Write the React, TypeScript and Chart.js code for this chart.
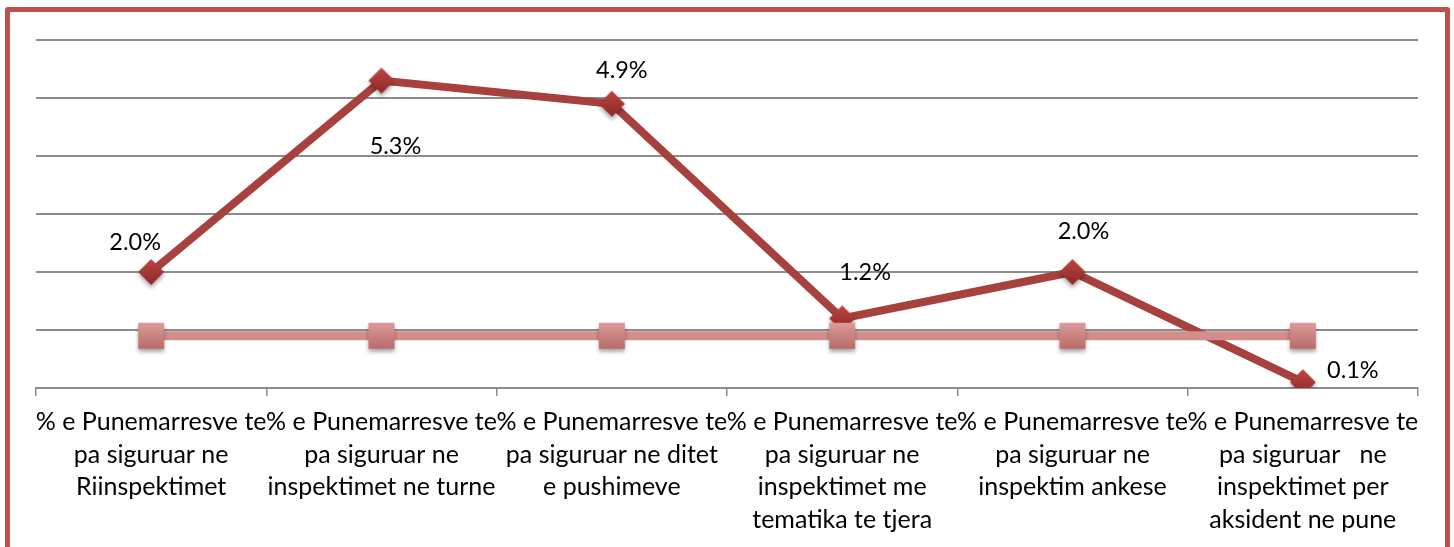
import React, { useEffect, useRef } from "react";
import { Chart, registerables } from "chart.js";

Chart.register(...registerables);

// ---------- data ----------
const categories: string[][] = [
  ["% e Punemarresve te", "pa siguruar ne", "Riinspektimet"],
  ["% e Punemarresve te", "pa siguruar ne", "inspektimet ne turne"],
  ["% e Punemarresve te", "pa siguruar ne ditet", "e pushimeve"],
  ["% e Punemarresve te", "pa siguruar ne", "inspektimet me", "tematika te tjera"],
  ["% e Punemarresve te", "pa siguruar ne", "inspektim ankese"],
  ["% e Punemarresve te", "pa siguruar   ne", "inspektimet per", "aksident ne pune"],
];
const uninsuredShare = [2.0, 5.3, 4.9, 1.2, 2.0, 0.1];
const referenceLevel = [0.9, 0.9, 0.9, 0.9, 0.9, 0.9];
const valueLabels = ["2.0%", "5.3%", "4.9%", "1.2%", "2.0%", "0.1%"];
const yMin = 0;
const yMax = 6;
const yStep = 1;

// ---------- styling ----------
const FONT = "Lato, 'Noto Sans', sans-serif";
const LABEL_OFFSETS: [number, number][] = [
  [-16, -30],
  [14, 66],
  [10, -33],
  [23, -46],
  [11, -41],
  [50, -12],
];
const GRID = "#8c8c8c";

function makeMarker(kind: "diamond" | "square"): HTMLCanvasElement {
  const c = document.createElement("canvas");
  c.width = 46;
  c.height = 46;
  const ctx = c.getContext("2d")!;
  const cx = 23;
  const cy = 23;
  ctx.shadowColor = "rgba(0,0,0,0.35)";
  ctx.shadowBlur = 4;
  ctx.shadowOffsetY = 3;
  ctx.beginPath();
  if (kind === "diamond") {
    const h = 13;
    ctx.moveTo(cx, cy - h);
    ctx.lineTo(cx + h, cy);
    ctx.lineTo(cx, cy + h);
    ctx.lineTo(cx - h, cy);
    ctx.closePath();
    const g = ctx.createLinearGradient(0, cy - h, 0, cy + h);
    g.addColorStop(0, "#BC4643");
    g.addColorStop(1, "#8E2826");
    ctx.fillStyle = g;
  } else {
    const h = 13;
    ctx.rect(cx - h, cy - h, 2 * h, 2 * h);
    const g = ctx.createLinearGradient(0, cy - h, 0, cy + h);
    g.addColorStop(0, "#DB9B99");
    g.addColorStop(1, "#BA6C6A");
    ctx.fillStyle = g;
  }
  ctx.fill();
  return c;
}

const valueLabelPlugin = {
  id: "valueLabels",
  afterDatasetsDraw(chart: any) {
    const meta = chart.getDatasetMeta(1);
    const ctx = chart.ctx;
    ctx.save();
    ctx.font = `23.5px ${FONT}`;
    ctx.fillStyle = "#000";
    ctx.textAlign = "center";
    ctx.textBaseline = "middle";
    meta.data.forEach((pt: any, i: number) => {
      const [dx, dy] = LABEL_OFFSETS[i];
      ctx.fillText(valueLabels[i], pt.x + dx, pt.y + dy);
    });
    ctx.restore();
  },
};

export default function App() {
  const ref = useRef<HTMLCanvasElement>(null);

  useEffect(() => {
    let chart: Chart | null = null;
    let cancelled = false;
    const build = () => {
      if (cancelled || !ref.current) return;
      const diamond = makeMarker("diamond");
      const square = makeMarker("square");
      chart = new Chart(ref.current, {
        type: "line",
        data: {
          labels: categories,
          datasets: [
            {
              label: "Referenca",
              data: referenceLevel,
              borderColor: "#D38D8C",
              borderWidth: 9,
              pointStyle: square as any,
              order: 1,
            },
            {
              label: "% e Punemarresve te pa siguruar",
              data: uninsuredShare,
              borderColor: "#A7413E",
              borderWidth: 8,
              pointStyle: diamond as any,
              order: 2,
            },
          ],
        },
        options: {
          responsive: false,
          animation: false,
          events: [],
          layout: { padding: { top: 40, right: 36, left: 0, bottom: 0 } },
          plugins: {
            legend: { display: false },
            tooltip: { enabled: false },
            title: { display: false },
          },
          elements: { line: { tension: 0 } },
          scales: {
            x: {
              type: "category",
              offset: true,
              grid: {
                offset: true,
                drawOnChartArea: false,
                drawTicks: true,
                tickLength: 8,
                color: GRID,
                lineWidth: 1.5,
              },
              border: { display: true, color: GRID, width: 2 },
              ticks: {
                autoSkip: false,
                maxRotation: 0,
                minRotation: 0,
                padding: 10,
                color: "#000",
                font: { family: FONT, size: 25, lineHeight: 1.3 },
              },
              afterFit: (s: any) => {
                s.height = 159;
              },
            },
            y: {
              min: yMin,
              max: yMax,
              ticks: { display: false, stepSize: yStep },
              grid: { color: GRID, lineWidth: 2, drawTicks: false },
              border: { display: false },
              afterFit: (s: any) => {
                s.width = 36;
              },
            },
          },
        },
        plugins: [valueLabelPlugin],
      });
    };
    const fonts: any = (document as any).fonts;
    if (fonts && fonts.load) {
      fonts.load(`25px Lato`).then(build, build);
    } else {
      build();
    }
    return () => {
      cancelled = true;
      if (chart) chart.destroy();
    };
  }, []);

  return (
    <div
      style={{
        position: "fixed",
        left: 0,
        top: 0,
        width: 1454,
        height: 547,
        background: "#fff",
        overflow: "hidden",
      }}
    >
      <div
        style={{
          position: "absolute",
          left: 5,
          top: 7,
          width: 1445,
          height: 620,
          boxSizing: "border-box",
          border: "5px solid #C0504D",
          borderRadius: 3,
        }}
      />
      <canvas
        ref={ref}
        width={1454}
        height={547}
        style={{ position: "absolute", left: 0, top: 0, width: 1454, height: 547 }}
      />
    </div>
  );
}
